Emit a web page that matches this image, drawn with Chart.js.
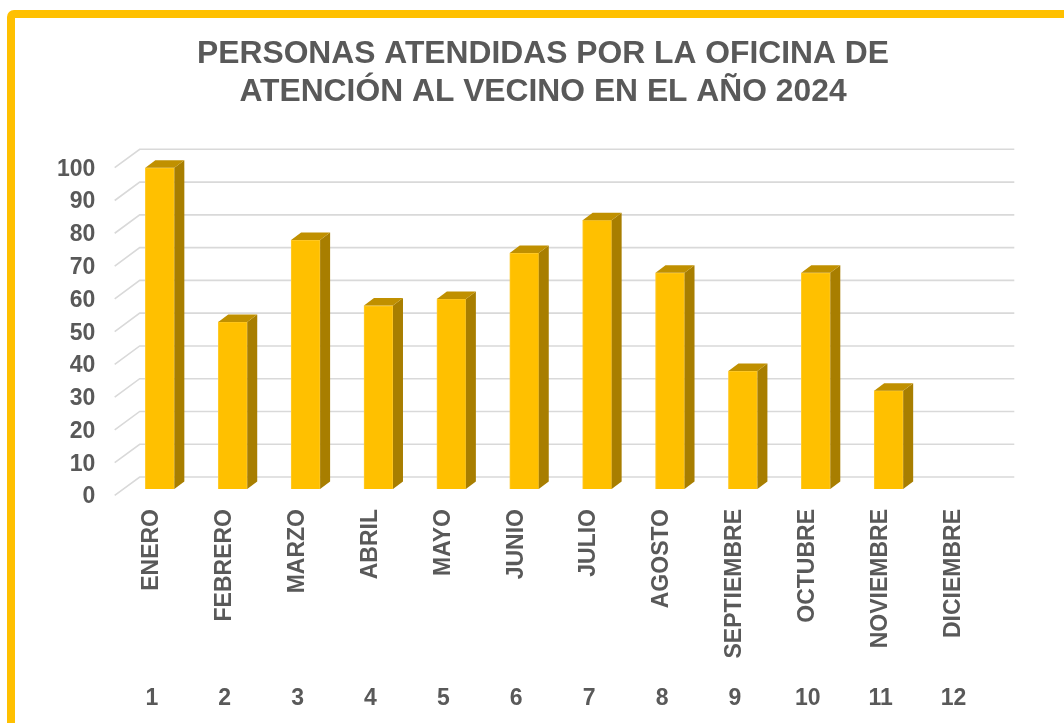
<!DOCTYPE html>
<html lang="es">
<head>
<meta charset="utf-8">
<title>Personas atendidas 2024</title>
<script src="https://cdn.jsdelivr.net/npm/chart.js@4.4.1/dist/chart.umd.min.js"></script>
<style>
  html, body { margin: 0; padding: 0; background: #fff; overflow: hidden; }
  .frame {
    position: absolute; left: 7px; top: 10px;
    width: 1200px; height: 900px;
    border: 8px solid #FFC000; border-radius: 7px;
  }
  #chart { position: absolute; left: 0; top: 0; }
</style>
</head>
<body>
<div class="frame"></div>
<canvas id="chart" width="1064" height="723"></canvas>
<script>
const months = ["ENERO", "FEBRERO", "MARZO", "ABRIL", "MAYO", "JUNIO", "JULIO", "AGOSTO", "SEPTIEMBRE", "OCTUBRE", "NOVIEMBRE", "DICIEMBRE"];
const monthNumbers = ["1", "2", "3", "4", "5", "6", "7", "8", "9", "10", "11", "12"];
const attended = [98, 51, 76, 56, 58, 72, 82, 66, 36, 66, 30, 0];

const FONT = "'Liberation Sans', Arial, sans-serif";
const GREY = "#595959";

// desplazamientos de la perspectiva (plano de las barras -> fondo / frente)
const back = { dx: 16.3, dy: -12 };
const front = { dx: -8.7, dy: 6.4 };
const barDepth = { dx: 10, dy: -7.5 };

const fakeThreeD = {
  id: "fakeThreeD",
  beforeDatasetsDraw(chart){
    const { ctx, chartArea: area } = chart;
    const y = chart.scales.y;
    ctx.save();
    ctx.strokeStyle = "#D9D9D9";
    ctx.lineWidth = 1.6;
    y.ticks.forEach(t => {
      const py = y.getPixelForValue(t.value);
      ctx.beginPath();
      ctx.moveTo(area.left + front.dx, py + front.dy);
      ctx.lineTo(area.left + back.dx, py + back.dy);
      ctx.lineTo(area.right + back.dx, py + back.dy);
      ctx.stroke();
    });
    ctx.restore();
  },
  afterDatasetsDraw(chart){
    const { ctx } = chart;
    const meta = chart.getDatasetMeta(0);
    ctx.save();
    meta.data.forEach((bar, i) => {
      if (!attended[i]) return;
      const { x, y, base, width } = bar.getProps(["x", "y", "base", "width"], true);
      const l = x - width / 2, r = x + width / 2;
      // lateral
      ctx.fillStyle = "#A87E00";
      ctx.beginPath();
      ctx.moveTo(r, y);
      ctx.lineTo(r + barDepth.dx, y + barDepth.dy);
      ctx.lineTo(r + barDepth.dx, base + barDepth.dy);
      ctx.lineTo(r, base);
      ctx.closePath();
      ctx.fill();
      // tapa
      ctx.fillStyle = "#C09000";
      ctx.beginPath();
      ctx.moveTo(l, y);
      ctx.lineTo(l + barDepth.dx, y + barDepth.dy);
      ctx.lineTo(r + barDepth.dx, y + barDepth.dy);
      ctx.lineTo(r, y);
      ctx.closePath();
      ctx.fill();
    });
    ctx.restore();
  }
};

new Chart(document.getElementById("chart"), {
  type: "bar",
  data: {
    labels: months,
    datasets: [{
      label: "Personas atendidas",
      data: attended,
      backgroundColor: "#FFC000",
      borderColor: "#FFCB2E",
      borderWidth: 1,
      barThickness: 29,
      xAxisID: "x",
      yAxisID: "y",
    }],
  },
  options: {
    responsive: false,
    animation: false,
    layout: { padding: { left: 53.4, right: 31.4, top: 0, bottom: 0 } },
    plugins: {
      legend: { display: false },
      tooltip: { enabled: false },
      title: {
        display: true,
        text: ["PERSONAS ATENDIDAS POR LA OFICINA DE", "ATENCIÓN AL VECINO EN EL AÑO 2024"],
        color: GREY,
        font: { family: FONT, size: 31.8, weight: "bold", lineHeight: 1.2 },
        padding: { top: 35, bottom: 50 },
      },
    },
    scales: {
      y: {
        min: 0, max: 100,
        ticks: { stepSize: 10, color: GREY, padding: 20, labelOffset: 8, font: { family: FONT, size: 23, weight: "bold" } },
        grid: { display: false },
        border: { display: false },
        afterFit: s => { s.width = 70; },
      },
      // eje vacío a la derecha: sólo reserva espacio para centrar el título
      yRight: {
        type: "linear",
        position: "right",
        ticks: { display: false },
        grid: { display: false },
        border: { display: false },
        afterFit: s => { s.width = 34.6; },
      },
      x: {
        type: "category",
        position: "bottom",
        offset: true,
        ticks: {
          autoSkip: false, minRotation: 90, maxRotation: 90,
          padding: 20, labelOffset: -8,
          color: GREY, font: { family: FONT, size: 23, weight: "bold" },
        },
        grid: { display: false, drawTicks: false },
        border: { display: false },
        afterFit: s => { s.height = 180; },
      },
      x2: {
        type: "category",
        position: "bottom",
        labels: monthNumbers,
        offset: true,
        ticks: {
          autoSkip: false, maxRotation: 0,
          padding: 16, labelOffset: -8,
          color: GREY, font: { family: FONT, size: 23, weight: "bold" },
        },
        grid: { display: false, drawTicks: false },
        border: { display: false },
        afterFit: s => { s.height = 54; },
      },
    },
  },
  plugins: [fakeThreeD],
});
</script>
</body>
</html>
